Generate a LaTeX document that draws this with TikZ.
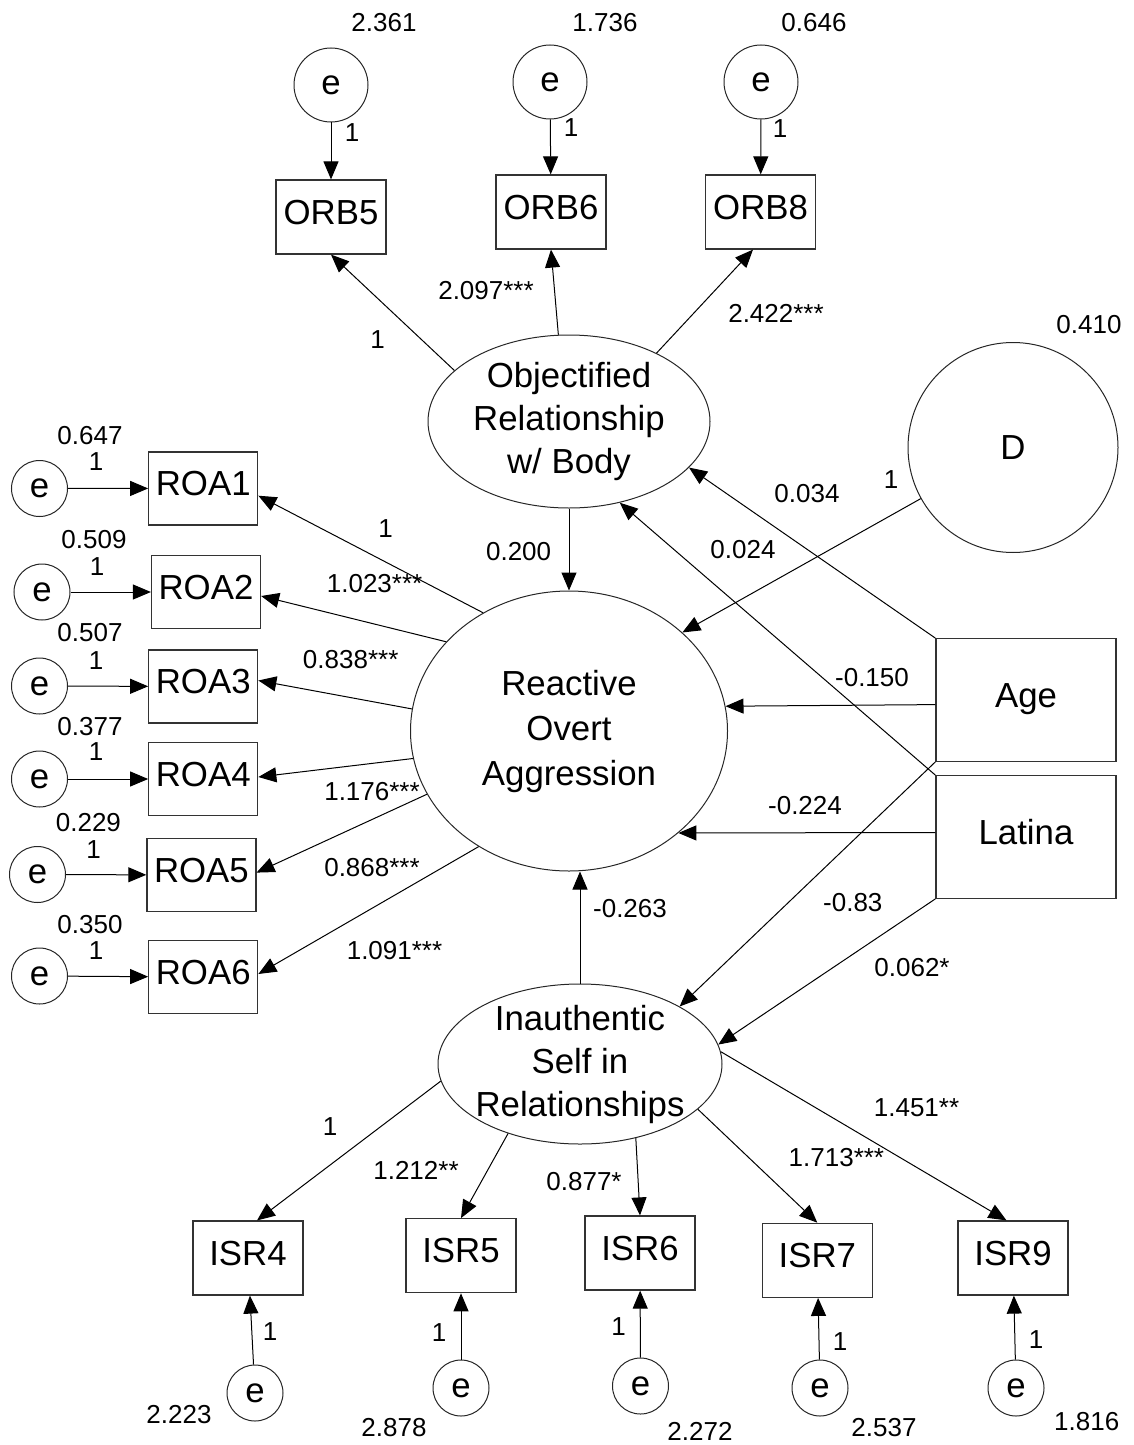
\documentclass[tikz,border=0pt]{standalone}
\usepackage{fontspec}
\setmainfont{Liberation Sans}
\usetikzlibrary{shapes.geometric,arrows.meta}
\begin{document}
\begin{tikzpicture}[x=0.5pt,y=-0.5pt,
  every node/.style={font=\fontsize{17.4}{20}\selectfont},
  obs/.style={draw=black!80, line width=0.6pt, rectangle, minimum width=55pt,
    minimum height=37pt, inner sep=0pt, text height=0.72em, text depth=0pt},
  cov/.style={obs, minimum width=90pt, minimum height=61.25pt},
  err/.style={draw=black!85, line width=0.5pt, circle, minimum size=28pt, inner sep=0pt},
  bigerr/.style={err, minimum size=37pt},
  latent/.style={draw=black!85, line width=0.5pt, ellipse, inner sep=0pt},
  ltext/.style={align=center, inner sep=0pt},
  lbl/.style={font=\fontsize{13}{15}\selectfont, inner sep=0pt},
  arr/.style={-{Triangle[length=9pt,width=7.5pt]}, line width=0.5pt},
]
\useasboundingbox (0,0) rectangle (1134,1445);

% ---------------- latent factors ----------------
\node[latent, minimum width=141pt, minimum height=86.5pt] (orb) at (569,421.5) {};
\node[ltext, font=\fontsize{17.4}{21.5}\selectfont] (orbtext) at (orb.center)
  {Objectified\\Relationship\\w/ Body};
\node[latent, minimum width=158.5pt, minimum height=140pt] (rea) at (569,731) {};
\node[ltext, font=\fontsize{17.4}{22.5}\selectfont] (reatext) at (rea.center)
  {Reactive\\Overt\\Aggression};
\node[latent, minimum width=142pt, minimum height=80pt] (isr) at (580,1064) {};
\node[ltext, font=\fontsize{17.4}{21.5}\selectfont] (isrtext) at (isr.center)
  {Inauthentic\\Self in\\Relationships};
\node[err, minimum size=105pt] (d) at (1013,447.5) {D};

% ---------------- covariates ----------------
\node[cov] (age) at (1026,700) {Age};
\node[cov] (latina) at (1026,837) {Latina};

% ---------------- ORB indicators ----------------
\node[obs] (orb5) at (331,217) {ORB5};
\node[obs] (orb6) at (551,212) {ORB6};
\node[obs] (orb8) at (760.6,212) {ORB8};
\node[bigerr] (eorb5) at (331,85) {e};
\node[bigerr] (eorb6) at (550,82) {e};
\node[bigerr] (eorb8) at (761,82) {e};
\node[lbl] (vorb5) at (384,23) {2.361};
\node[lbl] (vorb6) at (605,23) {1.736};
\node[lbl] (vorb8) at (814,23) {0.646};
\node[lbl] (forb5) at (352,133) {1};
\node[lbl] (forb6) at (571,128) {1};
\node[lbl] (forb8) at (780,129) {1};
\draw[arr] (eorb5) -- (orb5);
\draw[arr] (eorb6) -- (orb6);
\draw[arr] (eorb8) -- (orb8);
\draw[arr] (orb.156.9) -- (orb5.south);
\draw[arr] (orb.97.9) -- (orb6.south);
\draw[arr] (orb.38) -- ([xshift=-3.8pt]orb8.south);
\node[lbl] (lorb5) at (377.5,340) {1};
\node[lbl] (lorb6) at (486,291) {2.097***};
\node[lbl] (lorb8) at (776,313) {2.422***};

% ---------------- ROA indicators ----------------
\node[obs, minimum width=54.5pt, minimum height=36.5pt] (roa1) at (203.25,488.4) {ROA1};
\node[obs, minimum width=54.5pt, minimum height=36.5pt] (roa2) at (206,592) {ROA2};
\node[obs, minimum width=54.5pt, minimum height=36.5pt] (roa3) at (203.25,686.5) {ROA3};
\node[obs, minimum width=54.5pt, minimum height=36.5pt] (roa4) at (203.25,779) {ROA4};
\node[obs, minimum width=54.5pt, minimum height=36.5pt] (roa5) at (201.4,875) {ROA5};
\node[obs, minimum width=54.5pt, minimum height=36.5pt] (roa6) at (203.25,977) {ROA6};
\node[err] (eroa1) at (39.5,488.5) {e};
\node[err] (eroa2) at (42,592) {e};
\node[err] (eroa3) at (39.5,686) {e};
\node[err] (eroa4) at (39.5,779) {e};
\node[err] (eroa5) at (37.5,874.5) {e};
\node[err] (eroa6) at (39.5,976) {e};
\node[lbl] (vroa1) at (90,436) {0.647};
\node[lbl] (vroa2) at (94,540) {0.509};
\node[lbl] (vroa3) at (90,633) {0.507};
\node[lbl] (vroa4) at (90,727) {0.377};
\node[lbl] (vroa5) at (88.4,823) {0.229};
\node[lbl] (vroa6) at (90,925) {0.350};
\node[lbl] (froa1) at (96,462) {1};
\node[lbl] (froa2) at (97,566.5) {1};
\node[lbl] (froa3) at (96,661) {1};
\node[lbl] (froa4) at (96,752) {1};
\node[lbl] (froa5) at (93.6,849.7) {1};
\node[lbl] (froa6) at (96,951) {1};
\draw[arr] (eroa1) -- (roa1);
\draw[arr] (eroa2) -- (roa2);
\draw[arr] (eroa3) -- (roa3);
\draw[arr] (eroa4) -- (roa4);
\draw[arr] (eroa5) -- (roa5);
\draw[arr] (eroa6) -- (roa6);
\draw[arr] (rea.126.5) -- ([yshift=-3.65pt]roa1.east);
\draw[arr] (rea.144.1) -- ([yshift=-2pt]roa2.east);
\draw[arr] (rea.172.8) -- ([yshift=3pt]roa3.east);
\draw[arr] (rea.190) -- ([yshift=1pt]roa4.east);
\draw[arr] (rea.204.9) -- ([yshift=1.2pt]roa5.east);
\draw[arr] (rea.232.3) -- ([yshift=1.5pt]roa6.east);
\node[lbl] (lroa1) at (385.7,529) {1};
\node[lbl] (lroa2) at (374.6,583.7) {1.023***};
\node[lbl] (lroa3) at (350.7,660) {0.838***};
\node[lbl] (lroa4) at (372,792) {1.176***};
\node[lbl] (lroa5) at (372,867.7) {0.868***};
\node[lbl] (lroa6) at (394.5,951) {1.091***};

% ---------------- ISR indicators ----------------
\node[obs] (isr4) at (248,1258) {ISR4};
\node[obs] (isr5) at (461,1255.7) {ISR5};
\node[obs] (isr6) at (640,1253) {ISR6};
\node[obs] (isr7) at (817.3,1260.3) {ISR7};
\node[obs] (isr9) at (1013,1258) {ISR9};
\node[err] (eisr4) at (255,1393) {e};
\node[err] (eisr5) at (461,1388) {e};
\node[err] (eisr6) at (640.5,1386) {e};
\node[err] (eisr7) at (820,1388) {e};
\node[err] (eisr9) at (1016,1388) {e};
\node[lbl] (fisr4) at (270,1331.7) {1};
\node[lbl] (fisr5) at (439,1333) {1};
\node[lbl] (fisr6) at (618.6,1326.7) {1};
\node[lbl] (fisr7) at (840,1341.7) {1};
\node[lbl] (fisr9) at (1036,1340) {1};
\node[lbl] (visr4) at (179,1415) {2.223};
\node[lbl] (visr5) at (394,1428) {2.878};
\node[lbl] (visr6) at (700,1431.7) {2.272};
\node[lbl] (visr7) at (884,1428) {2.537};
\node[lbl] (visr9) at (1086.7,1421.7) {1.816};
\draw[arr] (eisr4) -- (isr4);
\draw[arr] (eisr5) -- (isr5);
\draw[arr] (eisr6) -- (isr6);
\draw[arr] (eisr7) -- (isr7);
\draw[arr] (eisr9) -- (isr9);
\draw[arr] (isr.187.7) -- ([xshift=4.5pt]isr4.north);
\draw[arr] (isr.224.2) -- (isr5.north);
\draw[arr] (isr.307.7) -- (isr6.north);
\draw[arr] (isr.339.2) -- (isr7.north);
\draw[arr] (isr.5.75) -- ([xshift=-3.25pt]isr9.north);
\node[lbl] (lisr4) at (330,1126.7) {1};
\node[lbl] (lisr5) at (416,1170) {1.212**};
\node[lbl] (lisr6) at (584,1181.7) {0.877*};
\node[lbl] (lisr7) at (836.4,1158) {1.713***};
\node[lbl] (lisr9) at (916.5,1108) {1.451**};

% ---------------- structural paths ----------------
\draw[arr] (orb) -- (rea);
\draw[arr] (isr.north) -- (isr.north |- rea.south);
\draw[arr] (d.209.6) -- (rea.41.7);
\draw[arr] (age.north west) -- (orb.339.3);
\draw[arr] (latina.north west) -- (orb.302.2);
\draw[arr] ([yshift=-2.3pt]age.west) -- (rea.9.5);
\draw[arr] ([yshift=2.25pt]latina.west) -- (rea.317.8);
\draw[arr] (age.south west) -- (isr.30.3);
\draw[arr] (latina.south west) -- (isr.8.7);
\node[lbl] (lrea) at (518.6,552) {0.200};
\node[lbl] (lageorb) at (807,493.8) {0.034};
\node[lbl] (llatorb) at (743,550) {0.024};
\node[lbl] (ld) at (891,480) {1};
\node[lbl] (vd) at (1089,325) {0.410};
\node[lbl] (lagerea) at (872,677.5) {-0.150};
\node[lbl] (llatrea) at (805,805.6) {-0.224};
\node[lbl] (lageisr) at (852.8,903) {-0.83};
\node[lbl] (llatisr) at (912,968) {0.062*};
\node[lbl] (lisrrea) at (630,909) {-0.263};
\end{tikzpicture}
\end{document}
